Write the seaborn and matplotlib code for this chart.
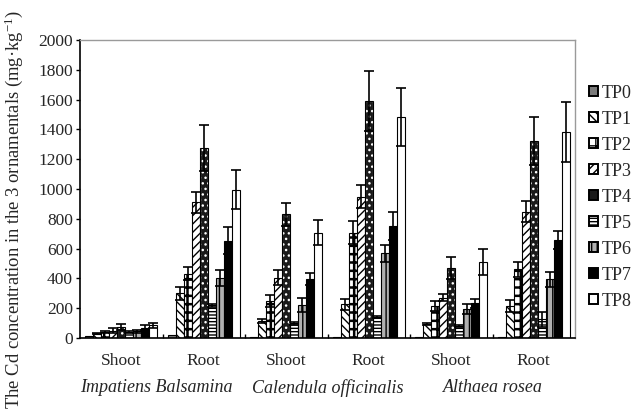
import numpy as np
import pandas as pd
import matplotlib
matplotlib.use("Agg")
import matplotlib.pyplot as plt
import seaborn as sns
from matplotlib.patches import Patch, Rectangle
from matplotlib.transforms import blended_transform_factory

# ---------------- data ----------------
species = ["Impatiens Balsamina", "Calendula officinalis", "Althaea rosea"]
tissues = ["Shoot", "Root"]
treatments = ["TP0", "TP1", "TP2", "TP3", "TP4", "TP5", "TP6", "TP7", "TP8"]

imp_shoot = [15, 30, 40, 50, 75, 40, 45, 70, 85]
imp_shoot_err = [3, 5, 6, 15, 20, 8, 10, 15, 18]
imp_root = [20, 300, 430, 910, 1275, 219, 403, 653, 996]
imp_root_err = [3, 45, 44, 68, 157, 10, 51, 92, 129]

cal_shoot = [10, 114, 248, 405, 830, 98, 221, 394, 707]
cal_shoot_err = [2, 11, 38, 51, 78, 8, 45, 40, 85]
cal_root = [10, 226, 707, 949, 1589, 143, 568, 752, 1485]
cal_root_err = [2, 38, 78, 76, 200, 8, 56, 94, 195]

alt_shoot = [10, 96, 215, 270, 472, 80, 192, 233, 510]
alt_shoot_err = [2, 8, 33, 23, 74, 6, 34, 31, 85]
alt_root = [10, 215, 461, 848, 1322, 125, 394, 658, 1385]
alt_root_err = [2, 40, 51, 71, 163, 49, 49, 60, 201]

ytick_vals = [0, 200, 400, 600, 800, 1000, 1200, 1400, 1600, 1800, 2000]

groups_vals = [imp_shoot, imp_root, cal_shoot, cal_root, alt_shoot, alt_root]
groups_errs = [imp_shoot_err, imp_root_err, cal_shoot_err, cal_root_err,
               alt_shoot_err, alt_root_err]
group_keys = [f"{sp}|{t}" for sp in species for t in tissues]

rows = []
for key, vals, errs in zip(group_keys, groups_vals, groups_errs):
    for tp, v, e in zip(treatments, vals, errs):
        rows.append({"group": key, "treatment": tp, "value": v, "err": e})
df = pd.DataFrame(rows)

# ---------------- styling ----------------
sns.set_theme(style="white")
plt.rcParams["font.family"] = ["Liberation Serif", "DejaVu Serif"]
plt.rcParams["mathtext.fontset"] = "custom"
plt.rcParams["mathtext.rm"] = "Liberation Serif"
plt.rcParams["mathtext.it"] = "Liberation Serif:italic"
plt.rcParams["hatch.linewidth"] = 1.0

styles = {
    "TP0": dict(fc="#7a7a7a", ec="black", hatch=None),
    "TP1": dict(fc="white", ec="black", hatch="\\\\\\\\"),
    "TP2": dict(fc="white", ec="black", hatch="++"),
    "TP3": dict(fc="white", ec="black", hatch="////"),
    "TP4": dict(fc="#1a1a1a", ec="white", hatch="..."),
    "TP5": dict(fc="white", ec="black", hatch="-----"),
    "TP6": dict(fc="#b0b0b0", ec="black", hatch="|||"),
    "TP7": dict(fc="black", ec="black", hatch=None),
    "TP8": dict(fc="white", ec="black", hatch=None),
}

W, H = 637, 412
fig = plt.figure(figsize=(W / 100, H / 100), dpi=100)
ax = fig.add_axes([80 / W, 74 / H, 495 / W, 298 / H])

sns.barplot(data=df, x="group", y="value", hue="treatment",
            order=group_keys, hue_order=treatments,
            palette=[styles[t]["fc"] for t in treatments],
            width=0.87, gap=0, errorbar=None, legend=False,
            saturation=1, edgecolor="black", linewidth=0.8, ax=ax)

for tp, cont in zip(treatments, ax.containers):
    st = styles[tp]
    sub = df[df["treatment"] == tp].set_index("group").loc[group_keys]
    xs, ys = [], []
    for bar in cont:
        bar.set_facecolor(st["fc"])
        bar.set_edgecolor(st["ec"])
        if st["hatch"]:
            bar.set_hatch(st["hatch"])
            if tp == "TP2" and hasattr(bar, "set_hatch_linewidth"):
                bar.set_hatch_linewidth(1.8)
        xs.append(bar.get_x() + bar.get_width() / 2)
        ys.append(bar.get_height())
        if st["ec"] != "black":
            ax.add_patch(Rectangle((bar.get_x(), bar.get_y()), bar.get_width(),
                                   bar.get_height(), fill=False, ec="black",
                                   lw=0.8, zorder=bar.get_zorder() + 0.1))
    if tp != "TP0":
        ax.errorbar(xs, ys, yerr=sub["err"].values, fmt="none", ecolor="black",
                    elinewidth=1.2, capsize=3.5, capthick=1.2, zorder=5)

ax.set_ylim(0, 2000)
ax.set_xlim(-0.5, len(group_keys) - 0.5)
ax.set_yticks(ytick_vals)
ax.set_yticklabels([str(v) for v in ytick_vals], fontsize=12.5)
ax.set_xticks(range(len(group_keys)))
ax.set_xticklabels([k.split("|")[1] for k in group_keys], fontsize=12.5)
ax.set_xticks([i + 0.5 for i in range(len(group_keys) - 1)], minor=True)
ax.tick_params(axis="x", which="major", length=0, pad=11)
ax.tick_params(axis="x", which="minor", direction="in", length=3, width=1,
               bottom=True, color="black")
ax.tick_params(axis="y", direction="out", length=3, width=1, left=True,
               color="black", pad=2)
ax.set_xlabel("")
ax.set_ylabel("")

for s in ["left", "bottom"]:
    ax.spines[s].set_color("black")
    ax.spines[s].set_linewidth(1.2)
for s in ["top", "right"]:
    ax.spines[s].set_color("#9a9a9a")
    ax.spines[s].set_linewidth(1.0)

trans = blended_transform_factory(ax.transData, ax.transAxes)
species_x = [0.42, 2.5, 4.5]
for sx, sp in zip(species_x, species):
    ax.text(sx, -(388 - 338) / 298, sp, transform=trans, ha="center",
            va="center", fontsize=13, style="italic")

ylab = fig.text(14 / W, (H - 210) / H,
                "The Cd concentration in the 3 ornamentals (mg·kg$^{-1}$)",
                rotation=90, ha="center", va="center", fontsize=12.5)

handles = []
for tp in treatments:
    st = styles[tp]
    hatch = st["hatch"] if st["ec"] == "black" else None
    handles.append(Patch(facecolor=st["fc"], edgecolor="black",
                         hatch=hatch, linewidth=1.4))

leg_fs = 13
HANDLE_X = 589
def make_legend(anchor, spacing):
    return fig.legend(handles, treatments, loc="upper left",
                      bbox_to_anchor=anchor, frameon=False,
                      fontsize=leg_fs, handlelength=0.5, handleheight=0.5,
                      handletextpad=0.2, labelspacing=spacing, borderpad=0,
                      borderaxespad=0)

anchor = (HANDLE_X / W, 1 - 82 / H)
leg = make_legend(anchor, 0.3)

# fit label length / legend placement to target pixel geometry
fig.canvas.draw()
r = fig.canvas.get_renderer()
bb = ylab.get_window_extent(r)
ylab.set_fontsize(12.5 * 400 / bb.height)

texts = leg.get_texts()
b0 = texts[0].get_window_extent(r)
b1 = texts[1].get_window_extent(r)
step = (b0.y0 + b0.y1) / 2 - (b1.y0 + b1.y1) / 2
fs_px = leg_fs * 100 / 72
new_spacing = 0.3 + (26 - step) / fs_px
leg.remove()
leg = make_legend(anchor, new_spacing)
fig.canvas.draw()
t0 = leg.get_texts()[0].get_window_extent(r)
h0 = leg.legend_handles[0].get_window_extent(r)
cy = H - (t0.y0 + t0.y1) / 2
dx = HANDLE_X - h0.x0
dy = cy - 93
leg.remove()
leg = make_legend((anchor[0] + dx / W, anchor[1] + dy / H), new_spacing)

fig.savefig("out.png", dpi=100)
